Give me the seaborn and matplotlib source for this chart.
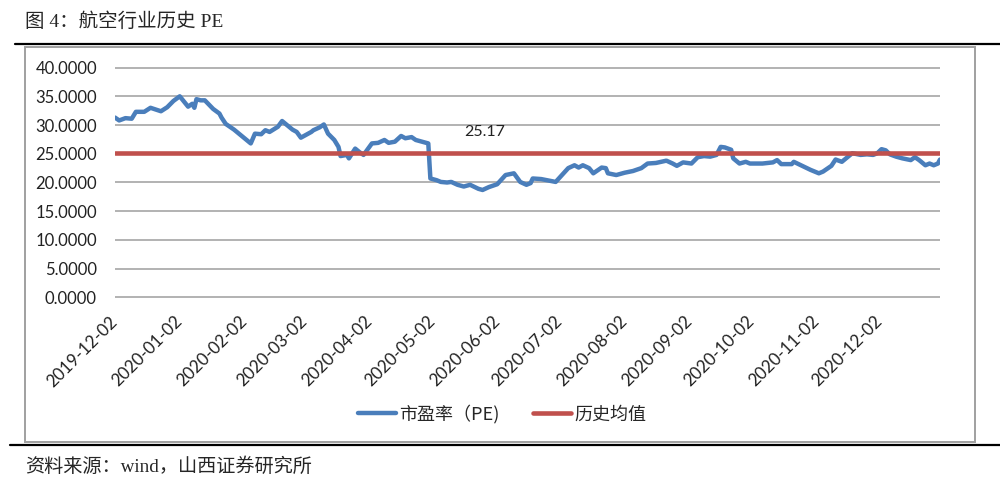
import numpy as np
import pandas as pd
import matplotlib
matplotlib.use("Agg")
import matplotlib.pyplot as plt
import matplotlib.dates as mdates
from matplotlib.lines import Line2D
from matplotlib.patches import Rectangle
import seaborn as sns

# ---------------- data ----------------
dates = [
    "2019-12-02", "2019-12-04", "2019-12-07", "2019-12-10", "2019-12-12", "2019-12-16",
    "2019-12-19", "2019-12-24", "2019-12-27", "2019-12-30", "2020-01-02", "2020-01-06",
    "2020-01-08", "2020-01-09", "2020-01-10", "2020-01-12", "2020-01-14", "2020-01-18",
    "2020-01-21", "2020-01-22", "2020-01-24", "2020-01-28", "2020-02-03", "2020-02-05",
    "2020-02-07", "2020-02-10", "2020-02-12", "2020-02-14", "2020-02-18", "2020-02-20",
    "2020-02-25", "2020-02-27", "2020-02-29", "2020-03-05", "2020-03-06", "2020-03-09",
    "2020-03-11", "2020-03-13", "2020-03-16", "2020-03-18", "2020-03-19", "2020-03-22",
    "2020-03-23", "2020-03-26", "2020-03-28", "2020-03-30", "2020-04-03", "2020-04-06",
    "2020-04-09", "2020-04-11", "2020-04-14", "2020-04-17", "2020-04-19", "2020-04-22",
    "2020-04-24", "2020-04-27", "2020-04-30", "2020-05-01", "2020-05-04", "2020-05-06",
    "2020-05-09", "2020-05-11", "2020-05-14", "2020-05-17", "2020-05-20", "2020-05-24",
    "2020-05-26", "2020-05-29", "2020-06-02", "2020-06-06", "2020-06-10", "2020-06-13",
    "2020-06-16", "2020-06-18", "2020-06-19", "2020-06-23", "2020-06-30", "2020-07-03",
    "2020-07-06", "2020-07-09", "2020-07-11", "2020-07-13", "2020-07-16", "2020-07-18",
    "2020-07-22", "2020-07-24", "2020-07-25", "2020-07-29", "2020-08-02", "2020-08-06",
    "2020-08-10", "2020-08-13", "2020-08-17", "2020-08-22", "2020-08-25", "2020-08-27",
    "2020-08-30", "2020-09-03", "2020-09-06", "2020-09-09", "2020-09-12", "2020-09-15",
    "2020-09-17", "2020-09-19", "2020-09-22", "2020-09-23", "2020-09-26", "2020-09-29",
    "2020-10-01", "2020-10-07", "2020-10-12", "2020-10-14", "2020-10-16", "2020-10-21",
    "2020-10-22", "2020-10-26", "2020-10-30", "2020-11-03", "2020-11-05", "2020-11-09",
    "2020-11-11", "2020-11-14", "2020-11-16", "2020-11-19", "2020-11-23", "2020-11-26",
    "2020-11-29", "2020-12-01", "2020-12-03", "2020-12-05", "2020-12-07", "2020-12-10",
    "2020-12-13", "2020-12-17", "2020-12-19", "2020-12-21", "2020-12-24", "2020-12-26",
    "2020-12-28", "2020-12-30", "2020-12-31",
]
pe_values = [
    31.3, 30.8, 31.2, 31.1, 32.3, 32.3,
    33.0, 32.4, 33.1, 34.2, 35.0, 33.2,
    33.7, 33.0, 34.5, 34.3, 34.3, 32.8,
    32.0, 31.3, 30.2, 29.2, 27.4, 26.8,
    28.5, 28.4, 29.1, 28.8, 29.7, 30.7,
    29.2, 28.8, 27.8, 28.8, 29.1, 29.6,
    30.1, 28.5, 27.4, 26.2, 24.6, 24.8,
    24.2, 25.9, 25.3, 24.8, 26.8, 26.9,
    27.4, 26.9, 27.1, 28.1, 27.7, 27.9,
    27.4, 27.1, 26.8, 20.7, 20.4, 20.1,
    20.0, 20.1, 19.6, 19.3, 19.6, 18.9,
    18.7, 19.2, 19.7, 21.3, 21.6, 20.1,
    19.6, 19.9, 20.7, 20.6, 20.1, 21.3,
    22.5, 23.0, 22.6, 23.0, 22.5, 21.6,
    22.6, 22.5, 21.6, 21.3, 21.7, 22.0,
    22.5, 23.3, 23.4, 23.8, 23.3, 22.9,
    23.5, 23.3, 24.4, 24.6, 24.5, 24.8,
    26.2, 26.1, 25.7, 24.2, 23.3, 23.6,
    23.3, 23.3, 23.5, 23.9, 23.2, 23.2,
    23.6, 22.9, 22.2, 21.6, 21.9, 22.9,
    24.0, 23.6, 24.2, 25.1, 24.8, 24.9,
    24.8, 25.1, 25.8, 25.6, 24.9, 24.5,
    24.2, 23.9, 24.4, 23.9, 23.0, 23.3,
    23.0, 23.3, 24.0,
]
HIST_MEAN = 25.17
mean_label_text = "25.17"
mean_label_date = "2020-05-27"
mean_label_y = 28.8
y_ticks = [0, 5, 10, 15, 20, 25, 30, 35, 40]
series_labels = ["市盈率（PE)", "历史均值"]
title_text = "图 4：航空行业历史 PE"
source_text = "资料来源：wind，山西证券研究所"

# ---------------- style ----------------
sns.set_theme(style="white")
plt.rcParams["font.family"] = ["Lato", "Noto Sans CJK SC", "DejaVu Sans"]

BLUE = "#4A7EBB"
RED = "#C0504D"
GRID = "#A6A6A6"

W, H = 1000, 487
fig = plt.figure(figsize=(W / 100, H / 100), dpi=100)

def fx(px):
    return px / W

def fy(py):
    return 1 - py / H

# chart frame
fig.add_artist(Rectangle((fx(25), fy(442)), fx(975) - fx(25), fy(47) - fy(442),
                         transform=fig.transFigure, fill=False,
                         edgecolor="#A0A0A0", lw=1.4))
# rules
fig.add_artist(Line2D([fx(15), fx(1000)], [fy(44), fy(44)], transform=fig.transFigure,
                      color="black", lw=1.6))
fig.add_artist(Line2D([fx(10), fx(1000)], [fy(445), fy(445)], transform=fig.transFigure,
                      color="black", lw=1.6))

fig.text(fx(25), fy(22), title_text, ha="left", va="center", fontsize=14,
         family=["Liberation Serif", "Noto Sans CJK SC"])
fig.text(fx(25), fy(467), source_text, ha="left", va="center", fontsize=13.8,
         family=["Liberation Serif", "Noto Sans CJK SC"])

ax = fig.add_axes([fx(115), fy(298), fx(940) - fx(115), fy(67) - fy(298)])

df = pd.DataFrame({"date": pd.to_datetime(dates), "pe": pe_values})
df["mean"] = HIST_MEAN

sns.lineplot(data=df, x="date", y="pe", ax=ax, color=BLUE, lw=3.2,
             label=series_labels[0])
sns.lineplot(data=df, x="date", y="mean", ax=ax, color=RED, lw=3.3,
             label=series_labels[1])

ax.text(pd.Timestamp(mean_label_date), mean_label_y, mean_label_text,
        ha="center", va="center", fontsize=11.5, color="#222222")

ax.set_ylim(-0.1, 40.1)
ax.set_xlim(pd.Timestamp(dates[0]), pd.Timestamp(dates[-1]))
ax.set_yticks(y_ticks)
ax.set_yticklabels([f"{v:.4f}" for v in y_ticks])
ax.xaxis.set_major_locator(mdates.MonthLocator(bymonthday=2))
ax.xaxis.set_major_formatter(mdates.DateFormatter("%Y-%m-%d"))
ax.yaxis.grid(True, color=GRID, lw=1.2)
ax.xaxis.grid(False)
ax.set_axisbelow(True)
for s in ax.spines.values():
    s.set_visible(False)
ax.tick_params(axis="y", length=0, pad=13, labelsize=12, labelcolor="#222222")
ax.tick_params(axis="x", length=0, pad=15, labelsize=12.3, labelcolor="#222222")
for lab in ax.get_xticklabels():
    lab.set_rotation(45)
    lab.set_ha("right")
    lab.set_va("center")
    lab.set_rotation_mode("anchor")
ax.set_xlabel("")
ax.set_ylabel("")

handles, labels = ax.get_legend_handles_labels()
ax.get_legend().remove()
fig.legend(handles, labels, loc="center", bbox_to_anchor=(fx(502), fy(414)),
           ncol=2, frameon=False, handlelength=2.1,
           handletextpad=0.15, columnspacing=1.9,
           prop={"family": ["Noto Sans CJK SC", "DejaVu Sans"], "size": 13})

fig.savefig("out.png", dpi=100)
